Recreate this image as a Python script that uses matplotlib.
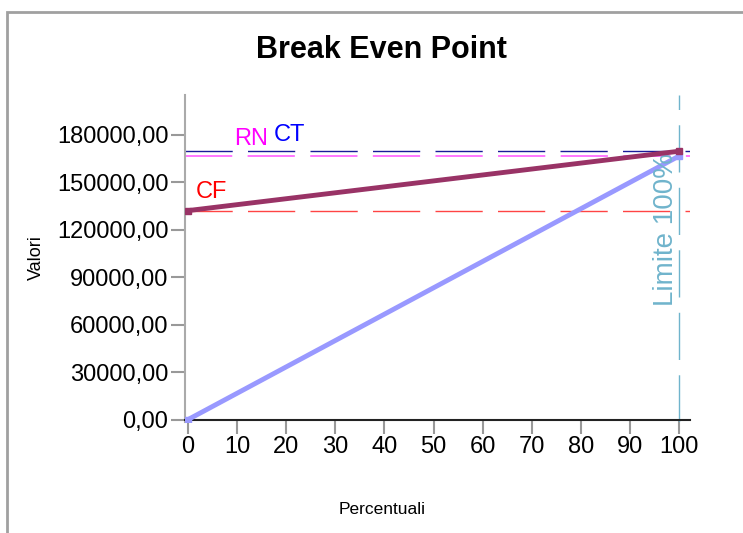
import matplotlib
matplotlib.use("Agg")
import matplotlib.pyplot as plt
from matplotlib.patches import Rectangle
from matplotlib import font_manager

names = {f.name for f in font_manager.fontManager.ttflist}
FONT = 'Liberation Sans Narrow' if 'Liberation Sans Narrow' in names else 'Liberation Sans'
plt.rcParams['font.family'] = [FONT, 'DejaVu Sans']

# data
pct = [0, 100]
total_costs = [132000, 169500]
revenue = [0, 166500]
ct_level = 169500
rn_level = 166500
cf_level = 132000
limit_x = 100
xticks = list(range(0, 101, 10))
yticks = [0, 30000, 60000, 90000, 120000, 150000, 180000]

fig = plt.figure(figsize=(7.43, 5.33), dpi=100)
fig.patches.append(Rectangle((7/743, -0.1), 1.2, (533-12)/533 + 0.1, transform=fig.transFigure,
                             fill=False, edgecolor='#a0a0a0', linewidth=2, clip_on=False))
ax = fig.add_axes([185/743, (533-422)/533, (690-185)/743, (422-95)/533])
ax.set_xlim(-0.6, 102.2)
ax.set_ylim(-1500, 205000)

ax.axhline(ct_level, color='#1a1a99', lw=1, ls=(0, (34, 11)), zorder=2)
ax.axhline(rn_level, color='#ff77ff', lw=1.4, ls=(0, (24.3, 7.9)), zorder=2)
ax.axhline(cf_level, color='#ff4444', lw=1, ls=(0, (34, 11)), zorder=2)
ax.axvline(limit_x, color='#70b4cc', lw=1, ls=(0, (34, 11)), zorder=2)

ax.plot(pct, revenue, color='#9999ff', lw=3.5, marker='s', ms=4, zorder=3, solid_capstyle='butt')
ax.plot(pct, total_costs, color='#993366', lw=3.5, marker='s', ms=4, zorder=4, solid_capstyle='butt')

ax.text(1.5, 137000, 'CF', color='#ff0000', fontsize=17, ha='left', va='bottom')
ax.text(9.5, 170500, 'RN', color='#ff00ff', fontsize=17, ha='left', va='bottom')
ax.text(17.5, 172500, 'CT', color='#0000ff', fontsize=17, ha='left', va='bottom')
ax.text(97.3, 120000, 'Limite 100%', color='#70b4cc', fontsize=20, rotation=90,
        ha='center', va='center')

ax.set_xticks(xticks)
ax.set_xticklabels([str(v) for v in xticks])
ax.set_yticks(yticks)
ax.set_yticklabels([f"{v},00" for v in yticks])
ax.tick_params(axis='both', labelsize=17, color='#999999', length=10, width=1.5)
ax.tick_params(axis='y', pad=2)
ax.tick_params(axis='x', pad=2)

for s in ['top', 'right']:
    ax.spines[s].set_visible(False)
ax.spines['left'].set_color('#aaaaaa')
ax.spines['left'].set_linewidth(1.5)
ax.spines['bottom'].set_color('#222222')
ax.spines['bottom'].set_linewidth(1.5)
ax.spines['bottom'].set_position(('data', 0))

fig.text(381/743, 1 - 50/533, 'Break Even Point', fontsize=22, fontweight='bold',
         ha='center', va='center')
fig.text(36/743, 1 - 258/533, 'Valori', fontsize=13, rotation=90, ha='center', va='center')
fig.text(382/743, 1 - 510/533, 'Percentuali', fontsize=12.5, ha='center', va='center')

fig.savefig('out.png', dpi=100)
